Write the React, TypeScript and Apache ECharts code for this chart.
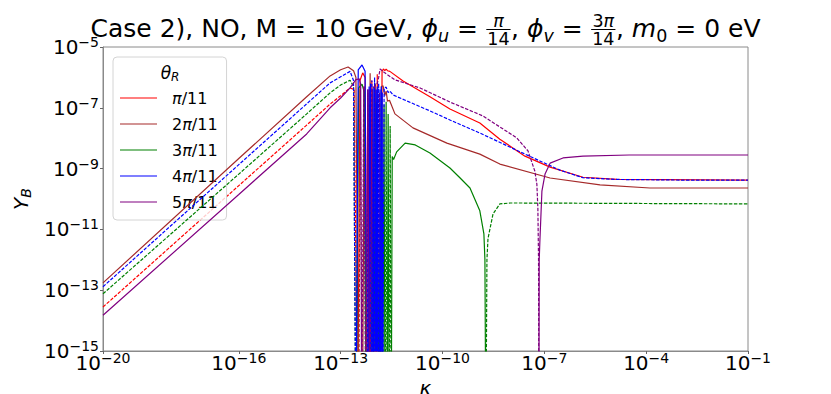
import React, { useEffect, useRef } from 'react';
import * as echarts from 'echarts';

const FF = '"DejaVu Sans", "Liberation Sans", sans-serif';

// ---- data ----
const THETA_LABELS = ['π/11', '2π/11', '3π/11', '4π/11', '5π/11'];
const X_TICKS = [1e-20, 1e-16, 1e-13, 1e-10, 1e-7, 1e-4, 1e-1];
const Y_TICKS = [1e-15, 1e-13, 1e-11, 1e-9, 1e-7, 1e-5];
const OBSERVED_YB = 8.7e-11;

// signed Y_B: positive -> solid, negative -> dashed (|Y_B|), 0 = sign change
const KAPPA_1 = [1e-20, 1e-16, 1e-14, 4.9e-14, 1e-13, 1.9e-13, 2.51e-13, 3.16e-13, 3.72e-13, 4.47e-13, 5.25e-13, 6.31e-13, 6.9e-13, 7.59e-13, 8.3e-13, 9.12e-13, 1e-12, 1.1e-12, 1.2e-12, 1.32e-12, 1.41e-12, 1.51e-12, 1.66e-12, 1.82e-12, 2.0e-12, 2.19e-12, 2.4e-12, 2.82e-12, 6.9e-12, 4.27e-11, 1.66e-10, 1.26e-9, 4.9e-9, 2.69e-8, 1.48e-7, 1.38e-6, 1.38e-5, 1e-1];
const YB_1 = [-2.8e-14, -2.75e-10, -2.7e-8, -1.32e-7, -2.5e-7, -4.5e-7, -4.0e-7, 0, 7.9e-7, 1.41e-6, 1.0e-6, 0, -4.0e-7, 0, 7.9e-7, 0, -5.0e-7, 0, 1.26e-6, 0, -3.16e-7, 0, 1.58e-6, 1.9e-6, 1.66e-6, 1.86e-6, 1.66e-6, 1.58e-6, 7.6e-7, 2.3e-7, 9.1e-8, 3.16e-8, 9.3e-9, 2.57e-9, 1.12e-9, 5.2e-10, 4.4e-10, 4.2e-10];

const KAPPA_2 = [1e-20, 1e-16, 1e-14, 4.9e-14, 1e-13, 1.66e-13, 2.4e-13, 2.82e-13, 3.39e-13, 3.8e-13, 4.37e-13, 5.0e-13, 5.75e-13, 6.31e-13, 6.9e-13, 7.4e-13, 7.94e-13, 8.7e-13, 9.55e-13, 1.05e-12, 1.15e-12, 1.26e-12, 1.38e-12, 1.58e-12, 1.78e-12, 2.0e-12, 2.19e-12, 2.4e-12, 2.75e-12, 3.98e-12, 1.35e-11, 1.35e-10, 1.26e-9, 4.9e-9, 1.48e-7, 4.37e-6, 1.29e-4, 1e-1];
const YB_2 = [1.74e-13, 2.14e-9, 2.3e-7, 1.12e-6, 1.78e-6, 2.19e-6, 1.66e-6, 1.0e-6, 0, -4.0e-7, 0, 5.0e-7, 0, -3.16e-7, 0, 1.38e-6, 0, -4.0e-7, 0, 6.3e-7, 0, -2.5e-7, 0, 5.0e-7, 5.25e-7, 2.5e-7, 3.55e-7, 1.66e-7, 1.78e-7, 6.3e-8, 2.19e-8, 6.9e-9, 3.0e-9, 1.41e-9, 4.9e-10, 2.9e-10, 2.3e-10, 2.3e-10];

const KAPPA_3 = [1e-20, 1e-16, 1e-14, 4.9e-14, 1e-13, 1.9e-13, 2.4e-13, 2.82e-13, 3.39e-13, 4.27e-13, 5.0e-13, 5.62e-13, 7.08e-13, 8.9e-13, 1.12e-12, 1.41e-12, 1.58e-12, 1.74e-12, 1.9e-12, 2.04e-12, 2.19e-12, 2.34e-12, 2.51e-12, 2.69e-12, 2.88e-12, 3.09e-12, 3.31e-12, 3.63e-12, 4.47e-12, 7.94e-12, 1.58e-11, 4.27e-11, 1.66e-10, 3.31e-10, 6.46e-10, 1.26e-9, 1.66e-9, 1.78e-9, 1.9e-9, 2.04e-9, 2.19e-9, 3.09e-9, 4.9e-9, 1e-8, 1e-1];
const YB_3 = [-7.6e-14, -6.6e-10, -6.3e-8, -3.1e-7, -5.6e-7, -8.1e-7, -5.0e-7, 0, 4.5e-7, 6.0e-7, 3.16e-7, 0, -1.26e-7, 0, 1.58e-7, 0, -2.0e-7, 0, 1.26e-7, 0, -1.58e-7, 0, 6.3e-8, 0, -2.5e-8, 0, 2.5e-9, 2.0e-9, 3.55e-9, 6.9e-9, 6.0e-9, 3.24e-9, 1.05e-9, 4.9e-10, 2.3e-10, 4.1e-11, 7.1e-12, 1e-12, 0, -1e-12, -5.0e-12, -3.24e-11, -6.9e-11, -7.4e-11, -6.9e-11];

const KAPPA_4 = [1e-20, 1e-16, 1e-14, 4.9e-14, 1e-13, 1.9e-13, 2.4e-13, 2.82e-13, 3.3e-13, 4.27e-13, 5.25e-13, 6.03e-13, 6.3e-13, 6.6e-13, 6.9e-13, 7.24e-13, 7.59e-13, 7.94e-13, 8.32e-13, 8.71e-13, 9.12e-13, 9.55e-13, 1.0e-12, 1.05e-12, 1.1e-12, 1.15e-12, 1.2e-12, 1.26e-12, 1.32e-12, 1.38e-12, 1.45e-12, 1.51e-12, 1.58e-12, 1.62e-12, 1.68e-12, 1.74e-12, 1.91e-12, 2.19e-12, 2.51e-12, 2.82e-12, 3.55e-12, 4.27e-11, 1.66e-10, 1.26e-9, 2.69e-8, 2.88e-7, 1.38e-6, 1.38e-5, 1e-3, 1e-1];
const YB_4 = [-1.3e-13, -1.35e-9, -1.35e-7, -6.6e-7, -1.05e-6, -1.58e-6, -7.9e-7, 0, 1.78e-6, 2.57e-6, 1.58e-6, 0, -4.0e-7, 0, 5.0e-7, 0, 6.3e-7, 0, -7.9e-7, 0, 5.0e-7, 0, -1.0e-6, 0, 4.0e-7, 0, 5.0e-7, 0, -6.3e-7, 0, 4.0e-7, 0, -5.0e-7, 0, 3.16e-7, 0, -4.47e-7, -4.8e-7, -3.16e-7, -3.55e-7, -2.63e-7, -7.9e-8, -3.98e-8, -1.48e-8, -3.0e-9, -8.9e-10, -5.0e-10, -4.4e-10, -4.2e-10, -4.2e-10];

const KAPPA_5 = [1e-20, 1e-16, 1e-14, 4.9e-14, 1e-13, 1.9e-13, 2.82e-13, 3.55e-13, 3.9e-13, 4.17e-13, 4.79e-13, 5.5e-13, 6.31e-13, 7.24e-13, 8.3e-13, 1.2e-12, 1.32e-12, 1.45e-12, 2.0e-12, 3.98e-12, 2.19e-11, 1.66e-10, 1.55e-9, 1.55e-8, 3.31e-8, 5.25e-8, 6.03e-8, 6.46e-8, 6.76e-8, 6.92e-8, 7.08e-8, 7.41e-8, 8.5e-8, 1.05e-7, 1.48e-7, 3.55e-7, 1.38e-6, 3.16e-5, 1e-1];
const YB_5 = [1.5e-14, 1.41e-10, 1.38e-8, 1.0e-7, 2.1e-7, 4.5e-7, 8.5e-7, 9.0e-7, 6.0e-7, 0, -5.0e-7, 0, 4.0e-7, 0, -4.0e-7, -6.3e-7, -1.0e-6, -1.9e-6, -1.41e-6, -8.3e-7, -4.5e-7, -1.55e-7, -5.4e-8, -1.02e-8, -3.8e-9, -8.3e-10, -3.1e-10, -5.0e-11, -1e-12, 0, 1e-12, 4.2e-12, 1.82e-10, 6.6e-10, 1.51e-9, 2.24e-9, 2.57e-9, 2.8e-9, 2.8e-9];

const KAPPAS = [KAPPA_1, KAPPA_2, KAPPA_3, KAPPA_4, KAPPA_5];
const YBS = [YB_1, YB_2, YB_3, YB_4, YB_5];
const COLORS = ['#ff0000', '#a52a2a', '#008000', '#0000ff', '#800080'];

// ---- helpers ----
const FLOOR = 1e-18; // sign change: drawn as a dip below the axis floor

function splitSign(kappa: number[], y: number[]) {
  const pos: any[] = [];
  const neg: any[] = [];
  kappa.forEach((k, i) => {
    const v = y[i];
    pos.push([k, v > 0 ? v : v === 0 ? FLOOR : null]);
    neg.push([k, v < 0 ? -v : v === 0 ? FLOOR : null]);
  });
  return { pos, neg };
}

let ctx: CanvasRenderingContext2D | null = null;
function tw(text: string, size: number, italic = false) {
  if (!ctx) ctx = document.createElement('canvas').getContext('2d');
  ctx!.font = `${italic ? 'italic ' : ''}${size}px ${FF}`;
  return ctx!.measureText(text).width;
}

const TITLE: any[] = [
  { t: 'Case 2), NO, M = 10 GeV, ' },
  { t: 'ϕ', it: true }, { t: 'u', it: true, sub: true }, { t: ' = ' },
  { num: [{ t: 'π', it: true }], den: '14' }, { t: ', ' },
  { t: 'ϕ', it: true }, { t: 'v', it: true, sub: true }, { t: ' = ' },
  { num: [{ t: '3' }, { t: 'π', it: true }], den: '14' }, { t: ', ' },
  { t: 'm', it: true }, { t: '0', sub: true }, { t: ' = 0 eV' },
];

function buildTitle(centerX: number) {
  const BIG = 25, SMALL = 17.5, BASE = 37, BAR = 29.5;
  const mid = (baseline: number, size: number) => baseline - 0.35 * size;
  const widths = TITLE.map((s) => {
    if (s.num) {
      const nw = s.num.reduce((a: number, p: any) => a + tw(p.t, SMALL, !!p.it), 0);
      return Math.max(nw, tw(s.den, SMALL)) + 3;
    }
    return tw(s.t, s.sub ? SMALL : BIG, !!s.it);
  });
  const total = widths.reduce((a: number, b: number) => a + b, 0);
  let x = centerX - total / 2;
  const els: any[] = [];
  const txt = (text: string, px: number, py: number, size: number, italic: boolean, align = 'left') => ({
    type: 'text', x: px, y: py, z: 20, silent: true,
    style: { text, fontSize: size, fontFamily: FF, fontStyle: italic ? 'italic' : 'normal', fill: '#000', textAlign: align, textVerticalAlign: 'middle' },
  });
  TITLE.forEach((s, i) => {
    const w = widths[i];
    if (s.num) {
      const nw = s.num.reduce((a: number, p: any) => a + tw(p.t, SMALL, !!p.it), 0);
      let nx = x + (w - nw) / 2;
      s.num.forEach((p: any) => {
        els.push(txt(p.t, nx, mid(BAR - 2.5, SMALL), SMALL, !!p.it));
        nx += tw(p.t, SMALL, !!p.it);
      });
      els.push({ type: 'line', z: 20, silent: true, shape: { x1: x + 0.5, y1: BAR, x2: x + w - 0.5, y2: BAR }, style: { stroke: '#000', lineWidth: 1 } });
      els.push(txt(s.den, x + w / 2, mid(BAR + 2.5 + 0.729 * SMALL, SMALL), SMALL, false, 'center'));
    } else if (s.sub) {
      els.push(txt(s.t, x, mid(BASE + 5, SMALL), SMALL, !!s.it));
    } else {
      els.push(txt(s.t, x, mid(BASE, BIG), BIG, !!s.it));
    }
    x += w;
  });
  return els;
}

const powLabel = (v: number) => {
  const e = Math.round(Math.log10(v));
  return `{b|10}{s|${e < 0 ? '−' : ''}${Math.abs(e)}}`;
};
const powRich = {
  b: { fontSize: 20, fontFamily: FF, color: '#000', lineHeight: 24 },
  s: { fontSize: 14, fontFamily: FF, color: '#000', lineHeight: 14, verticalAlign: 'top' },
};

function buildOption() {
  const series: any[] = [];
  KAPPAS.forEach((kappa, i) => {
    const { pos, neg } = splitSign(kappa, YBS[i]);
    const common = {
      type: 'line', symbol: 'none', showSymbol: false, connectNulls: false, clip: true,
      emphasis: { disabled: true }, silent: true, color: COLORS[i], z: 3 + i,
    };
    series.push({ ...common, name: THETA_LABELS[i], data: pos, lineStyle: { color: COLORS[i], width: 1.2, type: 'solid' } });
    series.push({ ...common, name: THETA_LABELS[i] + ' (−)', data: neg, lineStyle: { color: COLORS[i], width: 1.2, type: [3.5, 1.5] } });
  });
  series.push({
    type: 'line', name: 'observed', data: [], silent: true, z: 2,
    markLine: { symbol: 'none', silent: true, label: { show: false }, lineStyle: { color: '#a0a0a0', width: 1.5, type: 'solid' }, data: [{ yAxis: OBSERVED_YB }] },
  });

  return {
    animation: false,
    backgroundColor: '#ffffff',
    grid: { left: 103, right: 83, top: 47, bottom: 43, show: true, borderColor: '#8a8a8a', borderWidth: 1, containLabel: false, outerBoundsMode: 'none' },
    xAxis: {
      type: 'log', logBase: 10, min: 1e-20, max: 1e-1,
      name: 'κ', nameLocation: 'middle', nameGap: 24,
      nameTextStyle: { fontFamily: FF, fontSize: 20, fontStyle: 'italic', color: '#000', lineHeight: 18, verticalAlign: 'middle' },
      axisLine: { show: true, lineStyle: { color: '#8a8a8a', width: 1 } },
      axisTick: { show: true, inside: false, length: 3, lineStyle: { color: '#666' }, customValues: X_TICKS },
      axisLabel: { customValues: X_TICKS, margin: 0, formatter: powLabel, rich: powRich, hideOverlap: false, showMinLabel: true, showMaxLabel: true },
      splitLine: { show: false }, minorTick: { show: false },
    },
    yAxis: {
      type: 'log', logBase: 10, min: 1e-15, max: 1e-5,
      name: '{i|Y}{s|B}', nameLocation: 'middle', nameGap: 61,
      nameTextStyle: {
        rich: {
          i: { fontFamily: FF, fontSize: 20, fontStyle: 'italic', color: '#000', lineHeight: 24 },
          s: { fontFamily: FF, fontSize: 14, fontStyle: 'italic', color: '#000', lineHeight: 14, verticalAlign: 'bottom' },
        },
      },
      axisLine: { show: true, lineStyle: { color: '#8a8a8a', width: 1 } },
      axisTick: { show: true, inside: false, length: 3, lineStyle: { color: '#666' }, customValues: Y_TICKS },
      axisLabel: { customValues: Y_TICKS, margin: 4, formatter: powLabel, rich: powRich, hideOverlap: false, showMinLabel: true, showMaxLabel: true },
      splitLine: { show: false }, minorTick: { show: false },
    },
    legend: {
      data: THETA_LABELS,
      icon: 'rect',
      orient: 'vertical', left: 113, top: 57,
      padding: [31, 9, 8, 7], itemGap: 6, itemWidth: 37, itemHeight: 1.2,
      backgroundColor: 'rgba(255,255,255,0.8)', borderColor: '#d4d4d4', borderWidth: 1, borderRadius: 4,
      selectedMode: false,
      formatter: (name: string) => name.replace('π', '{i|π}'),
      textStyle: {
        fontFamily: FF, fontSize: 16, color: '#000', lineHeight: 20, padding: [0, 0, 0, 10],
        rich: { i: { fontFamily: FF, fontSize: 16, fontStyle: 'italic', color: '#000' } },
      },
    },
    graphic: [
      ...buildTitle(425.5),
      {
        type: 'text', x: 170, y: 73, z: 20, silent: true,
        style: {
          text: '{t|θ}{r|R}', textAlign: 'center', textVerticalAlign: 'middle',
          rich: {
            t: { fontFamily: FF, fontSize: 17, fontStyle: 'italic', fill: '#000', color: '#000', lineHeight: 20 },
            r: { fontFamily: FF, fontSize: 12, fontStyle: 'italic', fill: '#000', color: '#000', lineHeight: 12, verticalAlign: 'bottom' },
          },
        },
      },
    ],
    series,
  };
}

export default function App() {
  const ref = useRef<HTMLDivElement>(null);
  useEffect(() => {
    const chart = echarts.init(ref.current!, null, { renderer: 'svg' });
    chart.setOption(buildOption() as any);
    return () => chart.dispose();
  }, []);
  return (
    <div
      ref={ref}
      style={{ position: 'fixed', left: 0, top: 0, width: 831, height: 394, background: '#fff' }}
    />
  );
}
